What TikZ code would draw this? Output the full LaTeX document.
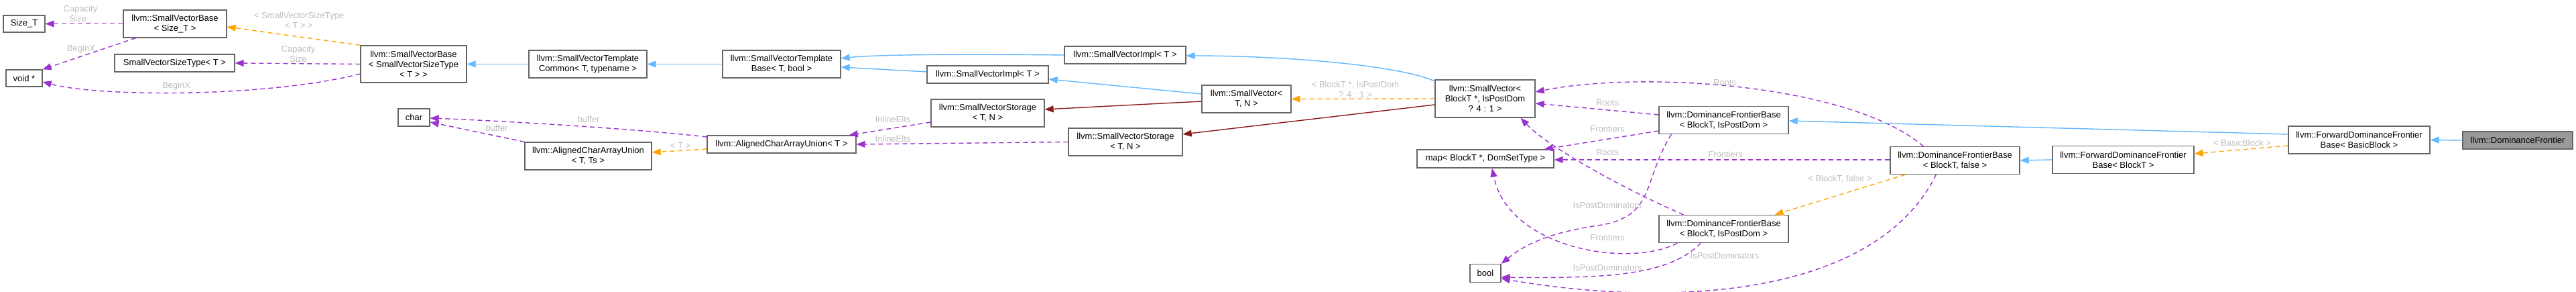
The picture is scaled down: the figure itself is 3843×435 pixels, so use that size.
\documentclass[tikz,border=0pt]{standalone}
\usepackage{fontspec}
\setmainfont{Liberation Sans}
\usetikzlibrary{arrows.meta,calc}
\definecolor{edgeblue}{HTML}{63B8FF}
\definecolor{edgepurple}{HTML}{9A32CD}
\definecolor{edgeorange}{HTML}{FFA500}
\definecolor{edgered}{HTML}{8B1A1A}
\definecolor{boxborder}{HTML}{666666}
\definecolor{lblgray}{HTML}{BEBEBE}
\definecolor{mainfill}{HTML}{999999}
\begin{document}
\begin{tikzpicture}[x=1pt,y=-1pt,
  box/.style={draw=boxborder, line width=1.3pt, fill=white, inner sep=0pt, align=center,
    font=\fontsize{13}{15}\selectfont, text=black},
  lbl/.style={inner sep=0pt, align=center, font=\fontsize{13}{15}\selectfont, text=lblgray},
  tip/.style={-{Triangle[length=13pt,width=10pt]}},
  inh/.style={draw=edgeblue, line width=1.4pt, tip},
  use/.style={draw=edgepurple, line width=1.4pt, dash pattern=on 7pt off 5pt, tip},
  tmpl/.style={draw=edgeorange, line width=1.4pt, dash pattern=on 7pt off 5pt, tip},
  own/.style={draw=edgered, line width=1.4pt, tip},
]
\fill[white] (0,0) rectangle (3843,435);
\useasboundingbox (0,0) rectangle (3843,435);

% nodes
\node[box, minimum width=62pt, minimum height=25pt] (sizeT) at (36,35.5) {Size\_T};
\node[box, minimum width=54pt, minimum height=25pt] (voidp) at (36,116.5) {void *};
\node[box, minimum width=154pt, minimum height=41pt] (svbSize) at (261,35.5) {llvm::SmallVectorBase\\< Size\_T >};
\node[box, minimum width=179pt, minimum height=26pt] (svst) at (260.5,94) {SmallVectorSizeType< T >};
\node[box, minimum width=158pt, minimum height=55pt] (svbT) at (617,95.5) {llvm::SmallVectorBase\\< SmallVectorSizeType\\< T > >};
\node[box, minimum width=47pt, minimum height=26pt] (char) at (617.5,175) {char};
\node[box, minimum width=189pt, minimum height=41pt] (acauTs) at (877.5,232.5) {llvm::AlignedCharArrayUnion\\< T, Ts >};
\node[box, minimum width=176pt, minimum height=41pt] (svtc) at (877,95.5) {llvm::SmallVectorTemplate\\Common< T, typename >};
\node[box, minimum width=176pt, minimum height=41pt] (svtb) at (1166,95.5) {llvm::SmallVectorTemplate\\Base< T, bool >};
\node[box, minimum width=222pt, minimum height=26pt] (acauT) at (1166,215) {llvm::AlignedCharArrayUnion< T >};
\node[box, minimum width=181pt, minimum height=26pt] (sviA) at (1678.5,82) {llvm::SmallVectorImpl< T >};
\node[box, minimum width=181pt, minimum height=26pt] (sviB) at (1473.5,111) {llvm::SmallVectorImpl< T >};
\node[box, minimum width=169pt, minimum height=41pt] (svsA) at (1473.5,168.5) {llvm::SmallVectorStorage\\< T, N >};
\node[box, minimum width=170pt, minimum height=41pt] (svsB) at (1679,211.5) {llvm::SmallVectorStorage\\< T, N >};
\node[box, minimum width=133pt, minimum height=41pt] (svTN) at (1859.5,147.5) {llvm::SmallVector<\\T, N >};
\node[box, minimum width=149pt, minimum height=56pt] (svB) at (2215.5,147) {llvm::SmallVector<\\BlockT *, IsPostDom\\? 4 : 1 >};
\node[box, minimum width=204pt, minimum height=27pt] (map) at (2216,236.5) {map< BlockT *, DomSetType >};
\node[box, minimum width=46pt, minimum height=27pt] (bool) at (2216,407) {bool};
\node[box, minimum width=193pt, minimum height=41pt] (dfbA) at (2571.5,179) {llvm::DominanceFrontierBase\\< BlockT, IsPostDom >};
\node[box, minimum width=193pt, minimum height=41pt] (dfbF) at (2916.5,239) {llvm::DominanceFrontierBase\\< BlockT, false >};
\node[box, minimum width=193pt, minimum height=41pt] (dfbB) at (2571.5,341) {llvm::DominanceFrontierBase\\< BlockT, IsPostDom >};
\node[box, minimum width=211pt, minimum height=41pt] (fdfbT) at (3167.5,238) {llvm::ForwardDominanceFrontier\\Base< BlockT >};
\node[box, minimum width=211pt, minimum height=41pt] (fdfbBB) at (3519.5,208.5) {llvm::ForwardDominanceFrontier\\Base< BasicBlock >};
\node[box, fill=mainfill, minimum width=164pt, minimum height=26pt] (df) at (3756,209) {llvm::DominanceFrontier};

% edges
\draw[use] (svbSize.west) -- (sizeT.east);
\draw[use] ($(svbSize.south west)+(19,0)$) -- (voidp.north east);
\draw[tmpl] (svbT.north west) -- ($(svbSize.east)+(0,4.5)$);
\draw[use] (svbT.west) -- (svst.east);
\draw[use] ($(svbT.west)+(0,14.5)$) .. controls (400,145) and (150,145) .. ($(voidp.east)+(0,5.5)$);
\draw[inh] (svtc.west) -- (svbT.east);
\draw[inh] (svtb.west) -- (svtc.east);
\draw[inh] (sviA.west) .. controls (1400,80) and (1300,82) .. ($(svtb.east)+(0,-8.5)$);
\draw[inh] ($(sviB.west)+(0,-4)$) -- ($(svtb.east)+(0,4.5)$);
\draw[inh] ($(svTN.west)+(0,-7.5)$) -- ($(sviB.east)+(0,7)$);
\draw[own] ($(svTN.west)+(0,3.5)$) -- ($(svsA.east)+(0,-5.5)$);
\draw[inh] ($(svB.north west)+(0,2.5)$) .. controls (2080,95) and (1900,83) .. ($(sviA.east)+(0,1)$);
\draw[tmpl] (svB.west) -- (svTN.east);
\draw[own] ($(svB.west)+(0,9)$) -- ($(svsB.east)+(0,-11.5)$);
\draw[use] ($(svsA.west)+(0,13.5)$) -- ($(acauT.north east)+(-11,0)$);
\draw[use] (svsB.west) -- (acauT.east);
\draw[use] ($(acauT.west)+(0,-11)$) .. controls (950,192) and (750,180) .. ($(char.east)+(0,1)$);
\draw[use] (acauTs.north west) -- ($(char.east)+(0,7)$);
\draw[tmpl] ($(acauT.west)+(0,7)$) -- ($(acauTs.east)+(0,-5.5)$);
\draw[use] ($(dfbA.west)+(0,-8)$) -- ($(svB.east)+(0,7)$);
\draw[use] ($(dfbF.north west)+(50,0)$) .. controls (2760,125) and (2450,105) .. ($(svB.east)+(0,-10)$);
\draw[use] ($(dfbA.west)+(0,16)$) -- ($(map.north east)+(-15,0)$);
\draw[use] ($(dfbF.west)+(0,-1)$) -- ($(map.east)+(0,1.5)$);
\draw[use] ($(dfbB.north west)+(37,0)$) .. controls (2430,285) and (2310,220) .. ($(svB.south)+(53,0)$);
\draw[use] ($(dfbB.south west)+(28,0)$) .. controls (2430,400) and (2250,370) .. ($(map.south)+(10,0)$);
\draw[use] ($(dfbA.south west)+(19,0)$) .. controls (2450,270) and (2470,320) .. (2390,335) .. controls (2320,345) and (2280,360) .. (bool.north east);
\draw[use] ($(dfbB.south west)+(63,0)$) .. controls (2490,410) and (2400,415) .. ($(bool.east)+(0,6)$);
\draw[use] ($(dfbF.south west)+(69,0)$) .. controls (2800,440) and (2500,460) .. ($(bool.east)+(0,8)$);
\draw[tmpl] ($(dfbF.south west)+(23,0)$) -- ($(dfbB.north east)+(-21,0)$);
\draw[inh] ($(fdfbBB.west)+(0,-8.5)$) -- ($(dfbA.east)+(0,1)$);
\draw[tmpl] ($(fdfbBB.west)+(0,8.5)$) -- ($(fdfbT.east)+(0,-9)$);
\draw[inh] (fdfbT.west) -- (dfbF.east);
\draw[inh] (df.west) -- (fdfbBB.east);

% labels
\node[lbl] (l1) at (120,21.5) {Capacity\\Size\_};
\node[lbl] (l2) at (121,73) {BeginX};
\node[lbl] (l3) at (446,30.5) {< SmallVectorSizeType\\< T > >};
\node[lbl] (l4) at (445,80.5) {Capacity\\Size};
\node[lbl] (l5) at (263,128) {BeginX};
\node[lbl] (l6) at (741,191) {buffer};
\node[lbl] (l7) at (878,178) {buffer};
\node[lbl] (l8) at (1015,217) {< T >};
\node[lbl] (l9) at (1332,178) {InlineElts};
\node[lbl] (l10) at (1332,207) {InlineElts};
\node[lbl] (l11) at (2022,133.5) {< BlockT *, IsPostDom\\? 4 : 1 >};
\node[lbl] (l12) at (2573,123) {Roots};
\node[lbl] (l13) at (2398,153) {Roots};
\node[lbl] (l14) at (2398,227) {Roots};
\node[lbl] (l15) at (2398,192) {Frontiers};
\node[lbl] (l16) at (2574,230) {Frontiers};
\node[lbl] (l17) at (2398,354) {Frontiers};
\node[lbl] (l18) at (2398,306) {IsPostDominators};
\node[lbl] (l19) at (2573,381) {IsPostDominators};
\node[lbl] (l20) at (2398,399) {IsPostDominators};
\node[lbl] (l21) at (2745,267) {< BlockT, false >};
\node[lbl] (l22) at (3345,213) {< BasicBlock >};
\end{tikzpicture}
\end{document}
